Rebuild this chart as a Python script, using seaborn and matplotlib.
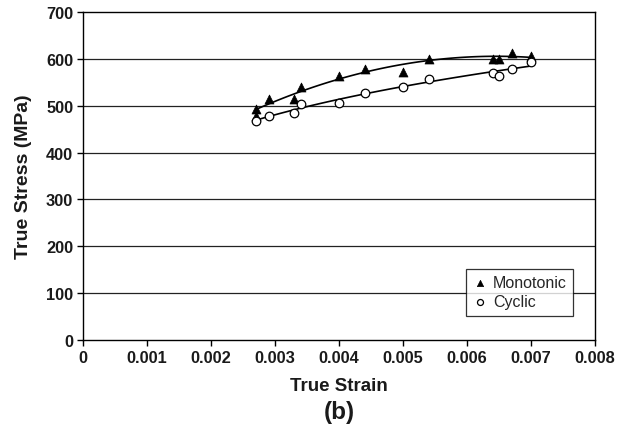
import numpy as np
import pandas as pd
import matplotlib
matplotlib.use("Agg")
import matplotlib.pyplot as plt
import seaborn as sns

# Data
mono_strain = [0.0027, 0.0027, 0.0029, 0.0033, 0.0034, 0.0040, 0.0044, 0.0050, 0.0054, 0.0064, 0.0065, 0.0067, 0.0070]
mono_stress = [493, 478, 515, 515, 540, 564, 579, 573, 599, 600, 600, 613, 606]
cyc_strain = [0.0027, 0.0029, 0.0033, 0.0034, 0.0040, 0.0044, 0.0050, 0.0054, 0.0064, 0.0065, 0.0067, 0.0070]
cyc_stress = [468, 479, 485, 504, 506, 528, 540, 557, 570, 564, 579, 594]
x_ticks = [0, 0.001, 0.002, 0.003, 0.004, 0.005, 0.006, 0.007, 0.008]
x_ticklabels = ["0", "0.001", "0.002", "0.003", "0.004", "0.005", "0.006", "0.007", "0.008"]
y_ticks = [0, 100, 200, 300, 400, 500, 600, 700]

sns.set_style("white")
plt.rcParams['font.family'] = ['Liberation Sans', 'DejaVu Sans']

fig = plt.figure(figsize=(6.25, 4.27), dpi=100)
ax = fig.add_axes([83/625, 1-341/427, 512/625, 328/427])

# trend lines (fits of the data)
xm = np.linspace(min(mono_strain), max(mono_strain), 100)
cm = np.polyfit(mono_strain, mono_stress, 2)
mfit = pd.DataFrame({"x": xm, "y": np.polyval(cm, xm)})

xc = np.linspace(min(cyc_strain), max(cyc_strain), 100)
cc = np.polyfit(np.log(cyc_strain), np.log(cyc_stress), 1)
cfit = pd.DataFrame({"x": xc, "y": np.exp(cc[1]) * xc ** cc[0]})

sns.lineplot(data=mfit, x="x", y="y", ax=ax, color="black", lw=1.2, legend=False)
sns.lineplot(data=cfit, x="x", y="y", ax=ax, color="black", lw=1.2, legend=False)

dm = pd.DataFrame({"x": mono_strain, "y": mono_stress})
dc = pd.DataFrame({"x": cyc_strain, "y": cyc_stress})
sns.scatterplot(data=dm, x="x", y="y", ax=ax, marker="^", s=42, color="black",
                edgecolor="black", linewidth=0.5, label="Monotonic", zorder=5)
sns.scatterplot(data=dc, x="x", y="y", ax=ax, marker="o", s=38, facecolor="white",
                edgecolor="black", linewidth=0.9, label="Cyclic", zorder=5)

ax.set_xlim(0, 0.008)
ax.set_ylim(0, 700)
ax.set_xticks(x_ticks)
ax.set_xticklabels(x_ticklabels)
ax.set_yticks(y_ticks)
for y in y_ticks[1:-1]:
    ax.axhline(y, color="#222222", lw=0.9, zorder=1)

for s in ax.spines.values():
    s.set_color("black")
    s.set_linewidth(1.0)
ax.tick_params(axis="both", direction="out", length=4, width=1, color="black",
               labelsize=11.8, pad=3, bottom=True, left=True)
for lbl in ax.get_xticklabels() + ax.get_yticklabels():
    lbl.set_fontweight("bold")
    lbl.set_color("#1a1a1a")

ax.set_xlabel("True Strain", fontsize=13.5, fontweight="bold", color="#1a1a1a", labelpad=9)
ax.set_ylabel("True Stress (MPa)", fontsize=14, fontweight="bold", color="#1a1a1a", labelpad=10)
fig.text((83+595)/2/625, 1-413/427, "(b)", ha="center", va="center",
         fontsize=17.5, fontweight="bold", color="#1a1a1a")

leg = ax.legend(loc="lower left", bbox_to_anchor=(0.732, 0.05), frameon=True,
                fancybox=False, edgecolor="black", fontsize=11.5, handletextpad=0.3,
                borderpad=0.4, labelspacing=0.25, handlelength=1.0, markerscale=0.7)
leg.get_frame().set_linewidth(0.9)
leg.get_frame().set_facecolor("white")
leg.set_zorder(10)

fig.savefig("out.png", dpi=100)
